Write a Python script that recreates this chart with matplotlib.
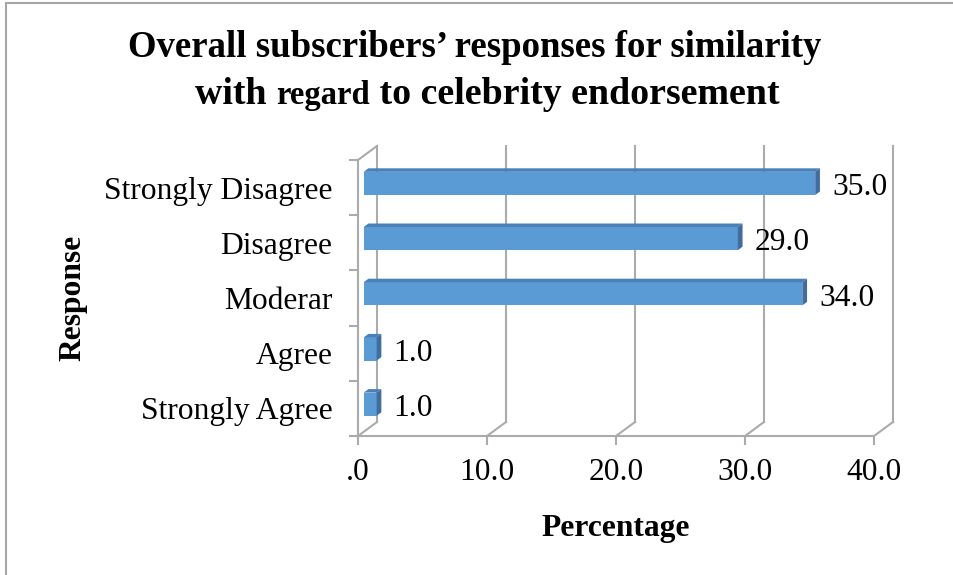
import matplotlib
matplotlib.use("Agg")
import matplotlib.pyplot as plt
from matplotlib.patches import Polygon, Rectangle
from matplotlib.transforms import IdentityTransform, offset_copy
from matplotlib.offsetbox import TextArea, HPacker, AnnotationBbox

# ============================================================
# Dados
# ============================================================
categorias = ["Strongly Agree", "Agree", "Moderar", "Disagree", "Strongly Disagree"]
percentuais = [1.0, 1.0, 34.0, 29.0, 35.0]
x_ticks = [0, 10, 20, 30, 40]
x_tick_labels = [".0", "10.0", "20.0", "30.0", "40.0"]

# ============================================================
# Estilo
# ============================================================
FONTE = "Liberation Serif"
COR_GRADE = "#ABABAB"
COR_FRENTE = "#5B9BD5"
COR_TOPO = "#4A80B8"
COR_LADO = "#3F6E9E"
DX, DY = 19, 14          # profundidade 3D (pixels)
D1, D2 = 0.30, 0.55      # posiГ§ГЈo das barras na profundidade
ALTURA_BARRA = 0.42

plt.rcParams["font.family"] = FONTE

fig = plt.figure(figsize=(9.54, 5.75), dpi=100)
ax = fig.add_axes([358 / 954, 139 / 575, 516 / 954, 276 / 575])
ax.set_xlim(0, 40)
ax.set_ylim(-0.5, 4.5)
ax.set_autoscale_on(False)
ax.patch.set_visible(False)

for lado in ["top", "right"]:
    ax.spines[lado].set_visible(False)
for lado in ["left", "bottom"]:
    ax.spines[lado].set_color(COR_GRADE)
    ax.spines[lado].set_linewidth(1.5)


def proj(x, y, d):
    px, py = ax.transData.transform((x, y))
    return (px + DX * d, py + DY * d)


ident = IdentityTransform()

# Parede de fundo (grade) e diagonais do piso
for v in x_ticks:
    ax.plot(*zip(proj(v, -0.5, 1), proj(v, 4.5, 1)), transform=ident,
            color=COR_GRADE, lw=1.5, clip_on=False, zorder=1)
    ax.plot(*zip(proj(v, -0.5, 0), proj(v, -0.5, 1)), transform=ident,
            color=COR_GRADE, lw=1.5, clip_on=False, zorder=1)
ax.plot(*zip(proj(0, 4.5, 0), proj(0, 4.5, 1)), transform=ident,
        color=COR_GRADE, lw=1.5, clip_on=False, zorder=1)

# Barras 3D
frente = offset_copy(ax.transData, fig=fig, x=DX * D1, y=DY * D1, units="dots")
ax.barh(range(len(categorias)), percentuais, height=ALTURA_BARRA,
        color=COR_FRENTE, transform=frente, zorder=3, clip_on=False)
for i, v in enumerate(percentuais):
    y0, y1 = i - ALTURA_BARRA / 2, i + ALTURA_BARRA / 2
    topo = [proj(0, y1, D1), proj(v, y1, D1), proj(v, y1, D2), proj(0, y1, D2)]
    lado = [proj(v, y0, D1), proj(v, y0, D2), proj(v, y1, D2), proj(v, y1, D1)]
    ax.add_patch(Polygon(topo, closed=True, transform=ident, facecolor=COR_TOPO,
                         edgecolor="none", zorder=3, clip_on=False))
    ax.add_patch(Polygon(lado, closed=True, transform=ident, facecolor=COR_LADO,
                         edgecolor="none", zorder=3, clip_on=False))
    ax.annotate(f"{v:.1f}", xy=(v, i), xytext=(DX * D2 + 12, 0),
                textcoords="offset pixels", va="center", ha="left",
                fontsize=22.7, zorder=4)

# Eixos
ax.set_xticks(x_ticks)
ax.set_xticklabels(x_tick_labels)
ax.set_yticks([i - 0.5 for i in range(len(categorias) + 1)])
ax.set_yticklabels([])
ax.set_yticks(range(len(categorias)), minor=True)
ax.set_yticklabels(categorias, minor=True)
ax.tick_params(axis="both", which="major", direction="out", length=6.5,
               width=1.5, color=COR_GRADE, labelsize=22.7)
ax.tick_params(axis="x", pad=9)
ax.tick_params(axis="y", which="minor", length=0, pad=18.5, labelsize=22.7)

fig.text(616 / 954, 1 - 536 / 575, "Percentage", ha="center", va="baseline",
         fontsize=22.7, fontweight="bold")
fig.text(72.5 / 954, 1 - 298 / 575, "Response", ha="center", va="center",
         rotation=90, fontsize=22.7, fontweight="bold")

# TГӯtulo (segunda linha com "regard" menor)
fig.text(0.498, 1 - 57 / 575, "Overall subscribers\u2019 responses for similarity",
         ha="center", va="baseline", fontsize=26.5, fontweight="bold")
partes = [("with ", 27.3), ("regard", 23.5), (" to celebrity endorsement", 27.3)]
caixa = HPacker(children=[TextArea(t, textprops=dict(fontsize=s, fontweight="bold",
                                                      family=FONTE))
                          for t, s in partes],
                align="baseline", pad=0, sep=0)
fig.add_artist(AnnotationBbox(caixa, (487.5 / 954, 1 - 112 / 575),
                              xycoords="figure fraction",
                              box_alignment=(0.5, 0), frameon=False, pad=0))

# Moldura
fig.add_artist(Rectangle((6.5 / 954, -0.05), 1.1, 1.05 - 2.5 / 575,
                         transform=fig.transFigure, fill=False,
                         edgecolor="#A6A6A6", lw=1.5))

fig.savefig("out.png", dpi=100)
